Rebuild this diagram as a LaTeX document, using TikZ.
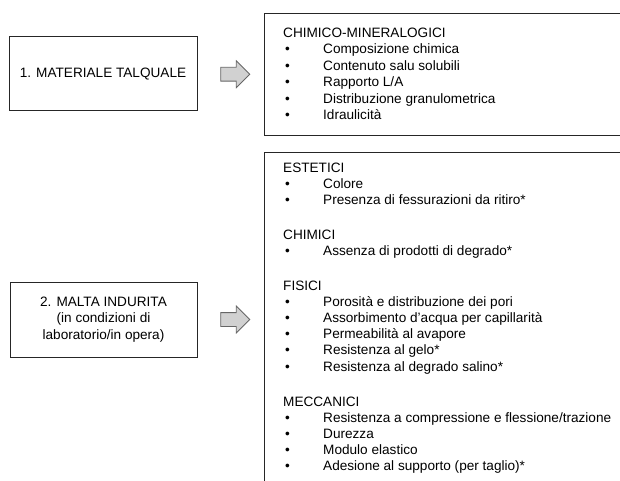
\documentclass[tikz,border=0pt]{standalone}
\usepackage{fontspec}
\setmainfont{Liberation Sans}
\usetikzlibrary{positioning,calc,shapes.arrows}

\newcommand{\voce}[1]{\hspace*{2pt}\makebox[38pt][l]{\textbullet}#1}

\begin{document}
\begin{tikzpicture}[x=1pt, y=-1pt,
    scatola/.style={draw=black!85, line width=1pt, align=center, inner sep=0pt,
      font=\fontsize{13.6}{16.5}\selectfont},
    cornice/.style={draw=black!85, line width=1pt, inner sep=0pt, anchor=north west},
    elenco/.style={anchor=north west, inner sep=0pt, align=left},
    freccia/.style={single arrow, draw=black!60, fill=black!18, line width=0.8pt,
      inner sep=6.5pt, minimum height=29pt, single arrow head extend=6.5pt}]
  \useasboundingbox (0,0) rectangle (620,481);
  \clip (0,0) rectangle (620,481);

  % left boxes
  \node[scatola, minimum width=188, minimum height=74] (mat) at (103,74)
    {1. MATERIALE TALQUALE};
  \node[scatola, minimum width=187, minimum height=75] (malta) at (103.5,319.5)
    {2. MALTA INDURITA\\(in condizioni di\\laboratorio/in opera)};

  % right boxes (cut at the page edge)
  \node[cornice, minimum width=380, minimum height=122] (chim) at (264,13) {};
  \node[cornice, minimum width=380, minimum height=345] (prop) at (264,152) {};

  % lists
  \node[elenco, font=\fontsize{13.6}{16.5}\selectfont] (chimtxt)
    at ([shift={(19pt,-12.5pt)}]chim.north west)
    {\strut CHIMICO-MINERALOGICI\\
     \voce{Composizione chimica}\\
     \voce{Contenuto salu solubili}\\
     \voce{Rapporto L/A}\\
     \voce{Distribuzione granulometrica}\\
     \voce{Idraulicità}};
  \node[elenco, font=\fontsize{13.6}{16.1}\selectfont] (proptxt)
    at ([shift={(19pt,-8.6pt)}]prop.north west)
    {\strut ESTETICI\\
     \voce{Colore}\\
     \voce{Presenza di fessurazioni da ritiro*}\\[19pt]
     CHIMICI\\
     \voce{Assenza di prodotti di degrado*}\\[19pt]
     FISICI\\
     \voce{Porosità e distribuzione dei pori}\\
     \voce{Assorbimento d'acqua per capillarità}\\
     \voce{Permeabilità al avapore}\\
     \voce{Resistenza al gelo*}\\
     \voce{Resistenza al degrado salino*}\\[19pt]
     MECCANICI\\
     \voce{Resistenza a compressione e flessione/trazione}\\
     \voce{Durezza}\\
     \voce{Modulo elastico}\\
     \voce{Adesione al supporto (per taglio)*}};

  % block arrows
  \node[freccia, xshift=1pt] (f1) at ($(mat.east)!0.5!(chim.west)$) {};
  \node[freccia, xshift=1pt] (f2) at ($(malta.east)!0.5!(malta.east -| prop.west)$) {};
\end{tikzpicture}
\end{document}
